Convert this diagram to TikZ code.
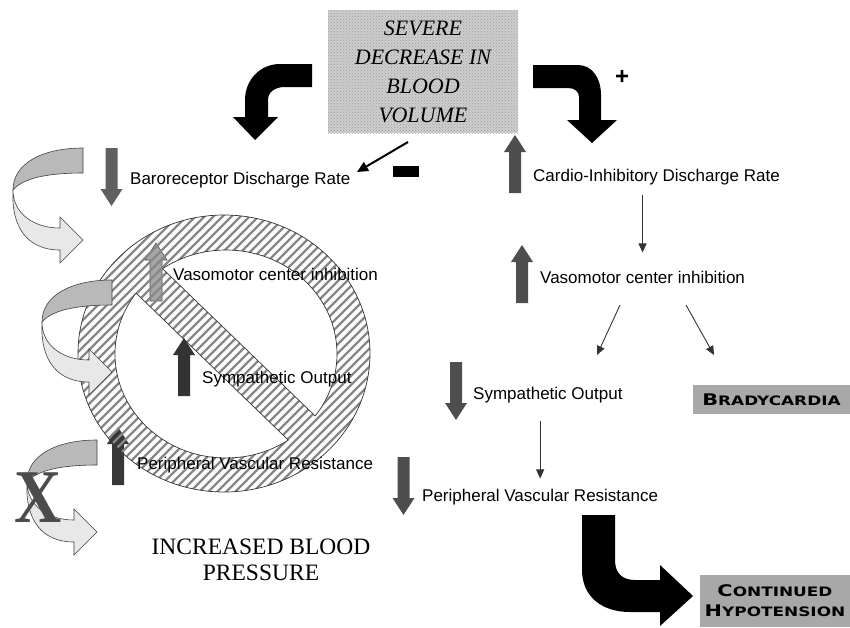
\documentclass[tikz,border=0pt]{standalone}
\usepackage{fontspec}
\setmainfont{Liberation Serif}
\setsansfont{Liberation Sans}
\newfontfamily\capsfont[FakeStretch=1.3]{DejaVu Sans}
\usetikzlibrary{arrows.meta,patterns}

\definecolor{boxgray}{RGB}{168,168,168}
\definecolor{lightbox}{RGB}{205,205,205}
\definecolor{arrgray}{RGB}{78,78,78}
\definecolor{hatchgray}{RGB}{135,135,135}

% block arrows: x of tip, y of tip, options
\newcommand{\arrup}[3]{\path[#3] (#1,#2) -- ++(11,17) -- ++(-5,0) -- ++(0,41) -- ++(-12,0) -- ++(0,-41) -- ++(-5,0) -- cycle;}
\newcommand{\arrdown}[3]{\path[#3] (#1,#2) -- ++(11,-17) -- ++(-5,0) -- ++(0,-41) -- ++(-12,0) -- ++(0,41) -- ++(-5,0) -- cycle;}
\newcommand{\fakecaps}[2]{{\fontsize{16}{16}\selectfont #1}{\fontsize{13}{13}\selectfont #2}}

\tikzset{
  txt/.style={font=\sffamily\fontsize{17}{17}\selectfont, inner sep=0pt, anchor=base west},
  severebox/.style={fill=lightbox, postaction={pattern=crosshatch dots, pattern color=gray!75},
    minimum width=190, minimum height=123, inner sep=0pt, align=center,
    font=\itshape\fontsize{22}{29}\selectfont},
  capbox/.style={fill=boxgray, inner sep=0pt, align=center,
    font=\capsfont\bfseries\fontsize{13}{20}\selectfont},
  thinarr/.style={-{Triangle[length=9pt,width=8pt]}, line width=0.9pt, black!80},
  hatchline/.style={hatchgray, line width=2.4pt},
  ringline/.style={black!80, line width=0.7pt},
  curlback/.style={fill=gray!55, draw=black!75, line width=0.6pt},
  curlfront/.style={fill=gray!18, draw=black!75, line width=0.6pt},
}

\begin{document}
\begin{tikzpicture}[x=1pt,y=-1pt]
\useasboundingbox (0,0) rectangle (850,627);

% cause
\node[severebox] (severe) at (423,71.5) {SEVERE\\DECREASE IN\\BLOOD\\VOLUME};

% big black arrows
\fill (312,64) -- (280,64) .. controls (260,64) and (245,80) .. (245,100) -- (245,117) -- (233,117)
  -- (255,140) -- (278,117) -- (268,117) -- (268,100) .. controls (268,92) and (275,87) .. (285,87) -- (312,87) -- cycle;
\fill (533,65) -- (578,65) .. controls (592,65) and (601,78) .. (601,95) -- (601,120) -- (617,120)
  -- (592,143) -- (567,120) -- (579,120) -- (579,97) .. controls (579,92) and (575,88) .. (568,88) -- (533,88) -- cycle;
\fill (582,515) -- (615,515) -- (615,560) .. controls (615,573) and (622,580) .. (635,580) -- (660,580) -- (660,565)
  -- (693,596) -- (660,626) -- (660,612) -- (630,612) .. controls (600,612) and (582,595) .. (582,570) -- cycle;

\node[font=\sffamily\bfseries\fontsize{24}{24}\selectfont, inner sep=0pt] (plus) at (622,77) {+};
\fill (393,166) rectangle (419,177);
\coordinate (minusA) at (408,142);
\coordinate (minusB) at (357,172);
\draw[-{Triangle[length=11pt,width=10pt]}, line width=2pt] (minusA) -- (minusB);

% right column
\node[txt] (cardio) at (533,181) {Cardio-Inhibitory Discharge Rate};
\node[txt] (vasoR) at (540,283) {Vasomotor center inhibition};
\node[txt] (sympR) at (473,399) {Sympathetic Output};
\node[txt] (periR) at (422,501) {Peripheral Vascular Resistance};
\node[capbox, minimum width=157, minimum height=29] (brady) at (771.5,399.5) {\fakecaps{B}{RADYCARDIA}};
\node[capbox, minimum width=150, minimum height=52] (hypo) at (775,601) {\fakecaps{C}{ONTINUED}\\\fakecaps{H}{YPOTENSION}};

\arrup{515}{135}{fill=arrgray}
\arrup{522}{245}{fill=arrgray}
\arrdown{456}{420}{fill=arrgray}
\arrdown{403.5}{515}{fill=arrgray}

\draw[thinarr, shorten <=10pt, shorten >=18pt] (vasoR.north |- cardio.south) -- (vasoR.north);
\coordinate (splitA) at (620,305);
\coordinate (splitB) at (686,305);
\coordinate (toSymp) at (597,355);
\coordinate (toBrady) at (714,355);
\draw[thinarr] (splitA) -- (toSymp);
\draw[thinarr] (splitB) -- (toBrady);
\draw[thinarr, shorten <=18pt, shorten >=10pt] (periR.north |- sympR.south) -- (periR.north);

% left column, blocked loop
\node[txt] (baro) at (130,184) {Baroreceptor Discharge Rate};
\arrdown{111.5}{206}{fill=arrgray!90}

\arrup{156}{243}{fill=gray!70, draw=black!70, line width=0.6pt}
\arrup{118}{427}{fill=black!78}

\begin{scope}[shift={(224,353)}, rotate=-44]
  \coordinate (barA1) at (-260,-18);
  \coordinate (barA2) at (260,-18);
  \coordinate (farA1) at (-260,-260);
  \coordinate (farA2) at (260,-260);
  \coordinate (barB1) at (-260,18);
  \coordinate (barB2) at (260,18);
  \coordinate (farB1) at (-260,260);
  \coordinate (farB2) at (260,260);
\end{scope}

\begin{scope}
  \clip (224,353.5) ellipse [x radius=146, y radius=138.5];
  \foreach \s in {-234,-225,...,350}
    \draw[hatchline] (\s,520) -- (\s+330,190);
\end{scope}
\begin{scope}
  \clip (226,354) ellipse [x radius=111, y radius=104];
  \fill[white] (barA1) -- (barA2) -- (farA2) -- (farA1) -- cycle;
  \fill[white] (barB1) -- (barB2) -- (farB2) -- (farB1) -- cycle;
  \draw[ringline] (barA1) -- (barA2);
  \draw[ringline] (barB1) -- (barB2);
\end{scope}
\begin{scope}
  \clip (barA1) -- (barA2) -- (farA2) -- (farA1) -- cycle;
  \draw[ringline] (226,354) ellipse [x radius=111, y radius=104];
\end{scope}
\begin{scope}
  \clip (barB1) -- (barB2) -- (farB2) -- (farB1) -- cycle;
  \draw[ringline] (226,354) ellipse [x radius=111, y radius=104];
\end{scope}
\draw[ringline] (224,353.5) ellipse [x radius=146, y radius=138.5];

\arrup{184}{338}{fill=black!80}
\node[txt] (vasoL) at (173,280) {Vasomotor center inhibition};
\node[txt] (sympL) at (202,383) {Sympathetic Output};
\node[txt] (periL) at (137,469) {Peripheral Vascular Resistance};

% curled feedback arrows
\foreach \ox/\oy in {83/148, 112/280, 97/440}{
  \begin{scope}[shift={(\ox,\oy)}]
    \filldraw[curlback] (0,0) .. controls (-40,0) and (-70,15) .. (-70,42)
      .. controls (-60,30) and (-35,25) .. (0,25) -- cycle;
    \filldraw[curlfront] (-70,42) .. controls (-70,65) and (-50,80) .. (-23,80) -- (-23,69) -- (0,92)
      -- (-23,115) -- (-23,102) .. controls (-55,102) and (-72,80) .. (-70,42) -- cycle;
  \end{scope}
}
\node[font=\bfseries\fontsize{76}{76}\selectfont, text=black!70, inner sep=0pt] (cross) at (38,498) {\scalebox{0.86}[1]{X}};

\node[font=\fontsize{23.5}{26}\selectfont, align=center, inner sep=0pt] (bp) at (261,560) {INCREASED BLOOD\\PRESSURE};
\end{tikzpicture}
\end{document}
